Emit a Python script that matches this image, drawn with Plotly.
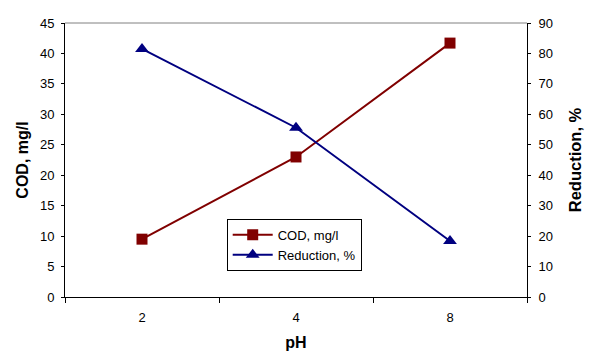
import plotly.graph_objects as go

ph_labels = ["2", "4", "8"]
cod_values = [9.5, 23.0, 41.7]
reduction_values = [81.5, 55.6, 18.4]

cod_color = "#800000"
red_color = "#000080"
font_family = "Liberation Sans, Arial, sans-serif"

fig = go.Figure()
fig.add_trace(go.Scatter(
    x=ph_labels, y=cod_values, name="COD, mg/l", mode="lines+markers",
    line=dict(color=cod_color, width=2),
    marker=dict(symbol="square", size=11, color=cod_color),
    yaxis="y",
))
fig.add_trace(go.Scatter(
    x=ph_labels, y=reduction_values, name="Reduction, %", mode="lines+markers",
    line=dict(color=red_color, width=2),
    marker=dict(symbol="triangle-up", size=12, color=red_color),
    yaxis="y2",
))

fig.update_layout(
    width=600, height=363,
    margin=dict(l=65, r=73, t=23, b=66, autoexpand=False),
    paper_bgcolor="white", plot_bgcolor="white",
    font=dict(family=font_family, size=13, color="black"),
    xaxis=dict(
        type="category", tickson="boundaries", range=[-0.5, 2.5],
        automargin=False,
        showline=True, linecolor="black", linewidth=1,
        ticks="outside", ticklen=5, tickcolor="black",
        showgrid=False, zeroline=False,
        ticklabelstandoff=8,
        title=dict(text="<b>pH</b>", font=dict(size=16), standoff=13),
        tickfont=dict(size=13),
    ),
    yaxis=dict(
        range=[0, 45], dtick=5, showgrid=False, zeroline=False,
        automargin=False,
        showline=True, linecolor="black", linewidth=1,
        ticks="outside", ticklen=3, tickcolor="black",
        ticklabelstandoff=4,
        tickfont=dict(size=13),
        title=dict(text="<b>COD, mg/l</b>", font=dict(size=16), standoff=7),
    ),
    yaxis2=dict(
        range=[0, 90], dtick=10, overlaying="y", side="right",
        automargin=False,
        showgrid=False, zeroline=False,
        showline=True, linecolor="black", linewidth=1,
        ticks="outside", ticklen=3, tickcolor="black",
        ticklabelstandoff=5,
        tickfont=dict(size=13),
        title=dict(text="<b>Reduction, %</b>", font=dict(size=16.5), standoff=17),
    ),
    legend=dict(
        x=0.35, y=0.285, xanchor="left", yanchor="top",
        bordercolor="black", borderwidth=1, bgcolor="white",
        font=dict(size=13), tracegroupgap=0, itemwidth=40,
    ),
    shapes=[dict(type="line", xref="paper", yref="paper", x0=0, x1=1, y0=1, y1=1,
                 line=dict(color="#808080", width=1))],
)

fig.write_html("out.html", config={"staticPlot": True, "displayModeBar": False},
               post_script="document.body.style.margin='0';")
